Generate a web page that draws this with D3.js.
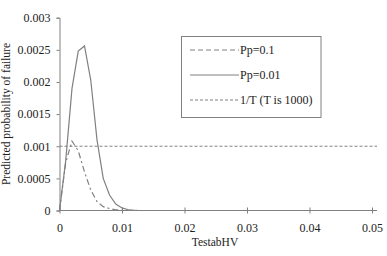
<!DOCTYPE html>
<html>
<head>
<meta charset="utf-8">
<script src="https://cdn.jsdelivr.net/npm/d3@7"></script>
<style>
  body { margin: 0; background: #fff; }
  text { font-family: "Liberation Serif", "Times New Roman", serif; fill: #222; }
</style>
</head>
<body>
<svg id="chart" width="387" height="256"></svg>
<script>
// values
var testab = [0, 0.001, 0.002, 0.003, 0.004, 0.005, 0.006, 0.007, 0.008, 0.009, 0.01, 0.011, 0.012, 0.013];
var pp01 = [0, 0.00075, 0.00108, 0.00093, 0.0006, 0.00032, 0.00014, 0.00006, 0.00003, 0.000012, 0.000005, 0.000002, 0.000001, 0];
var pp001 = [0, 0.00078, 0.0019, 0.00248, 0.00256, 0.00203, 0.0011, 0.0005, 0.00024, 0.0001, 0.00004, 0.000012, 0.000003, 0];
var threshold = 0.001;
var xTicks = [0, 0.01, 0.02, 0.03, 0.04, 0.05];
var yTicks = [0, 0.0005, 0.001, 0.0015, 0.002, 0.0025, 0.003];
var legendLabels = ["Pp=0.1", "Pp=0.01", "1/T (T is 1000)"];

var svg = d3.select("#chart");
var grey = "#808080";

var x = d3.scaleLinear().domain([0, 0.05]).range([59.5, 372]);
var y = d3.scaleLinear().domain([0, 0.003]).range([210.5, 17.7]);
var xEnd = 377;

// y axis
var yAxis = svg.append("g").attr("transform", "translate(59.5,0)")
    .call(d3.axisLeft(y).tickValues(yTicks).tickSize(3).tickFormat(function(d) { return String(+d.toFixed(4)); }));
yAxis.attr("font-family", null);
yAxis.select(".domain").attr("stroke", grey);
yAxis.selectAll(".tick line").attr("stroke", grey);
yAxis.selectAll(".tick text").attr("x", -9).attr("font-size", 12).attr("fill", "#222");

// x axis
var xAxis = svg.append("g").attr("transform", "translate(0,210.5)")
    .call(d3.axisBottom(x).tickValues(xTicks).tickSize(0).tickFormat(function(d) { return String(d); }));
xAxis.attr("font-family", null);
xAxis.select(".domain").attr("d", "M59.5,0H" + xEnd).attr("stroke", grey);
xAxis.selectAll(".tick line").attr("y1", -3).attr("y2", 3).attr("stroke", grey);
xAxis.selectAll(".tick text").attr("y", 12.5).attr("font-size", 12).attr("fill", "#222");

// threshold line
svg.append("line")
    .attr("x1", x(0)).attr("x2", xEnd)
    .attr("y1", y(threshold)).attr("y2", y(threshold))
    .attr("stroke", grey).attr("stroke-dasharray", "3,2").attr("stroke-width", 1);

var line = d3.line().x(function(d) { return x(d[0]); }).y(function(d) { return y(d[1]); });

svg.append("path")
    .datum(d3.zip(testab, pp01))
    .attr("d", line).attr("fill", "none")
    .attr("stroke", grey).attr("stroke-width", 1.2).attr("stroke-dasharray", "6,3,2,3");

svg.append("path")
    .datum(d3.zip(testab, pp001))
    .attr("d", line).attr("fill", "none")
    .attr("stroke", grey).attr("stroke-width", 1.2);

// legend
var legend = svg.append("g");
legend.append("rect").attr("x", 181.5).attr("y", 36.5).attr("width", 139.5).attr("height", 81)
    .attr("fill", "#fff").attr("stroke", grey);
var dashes = ["5,3", null, "3,2"];
legendLabels.forEach(function(lbl, i) {
    var ly = 50 + i * 25;
    legend.append("line").attr("x1", 190).attr("x2", 239).attr("y1", ly).attr("y2", ly)
        .attr("stroke", grey).attr("stroke-width", 1).attr("stroke-dasharray", dashes[i]);
    legend.append("text").attr("x", 240).attr("y", ly + 4).attr("font-size", 12).text(lbl);
});

// axis titles
svg.append("text").attr("x", 215).attr("y", 246).attr("text-anchor", "middle").attr("font-size", 11.5).text("TestabHV");
svg.append("text").attr("transform", "translate(10,114) rotate(-90)").attr("text-anchor", "middle")
    .attr("font-size", 11.5).text("Predicted probability of failure");
</script>
</body>
</html>
